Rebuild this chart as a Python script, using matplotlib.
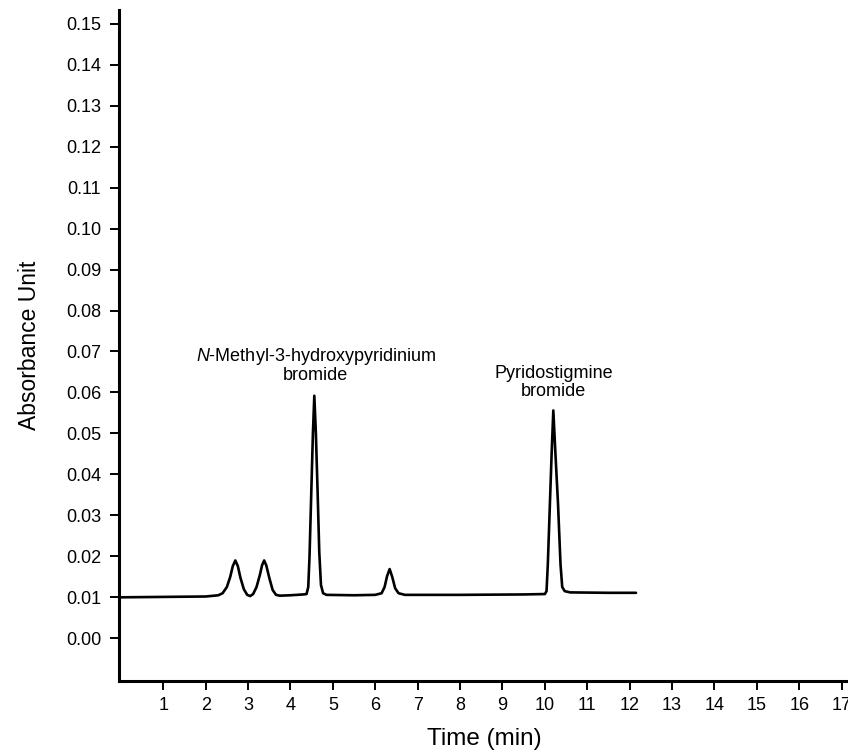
import matplotlib
matplotlib.use("Agg")
import matplotlib.pyplot as plt

plt.rcParams['font.family'] = ['Liberation Sans', 'DejaVu Sans']
plt.rcParams['mathtext.fontset'] = 'custom'
plt.rcParams['mathtext.rm'] = 'Liberation Sans'
plt.rcParams['mathtext.it'] = 'Liberation Sans:italic'

# Chromatogram trace (time in min, absorbance units)
time_min = [
    0.00, 1.00, 2.00, 2.30, 2.40, 2.50, 2.58, 2.64, 2.70, 2.76, 2.82, 2.90, 2.98,
    3.05, 3.12, 3.20, 3.28, 3.33, 3.38, 3.43, 3.50, 3.58, 3.66, 3.75, 4.00, 4.30,
    4.38, 4.42, 4.45, 4.49, 4.53, 4.563, 4.60, 4.64, 4.68, 4.72, 4.77, 4.85,
    5.50, 6.00, 6.15, 6.22, 6.28, 6.34, 6.40, 6.47, 6.55, 6.70,
    8.00, 9.50, 10.00, 10.04, 10.07, 10.12, 10.16, 10.20, 10.25, 10.31, 10.37,
    10.41, 10.47, 10.60, 11.50, 12.15,
]
absorbance = [
    0.0100, 0.0101, 0.0102, 0.0105, 0.0110, 0.0125, 0.0150, 0.0176, 0.0190, 0.0176, 0.0148, 0.0120, 0.0106,
    0.0103, 0.0108, 0.0125, 0.0155, 0.0178, 0.0190, 0.0178, 0.0148, 0.0118, 0.0106, 0.0104, 0.0105, 0.0107,
    0.0108, 0.0125, 0.0200, 0.0350, 0.0500, 0.0592, 0.0500, 0.0360, 0.0210, 0.0130, 0.0110, 0.0106,
    0.0105, 0.0106, 0.0110, 0.0125, 0.0152, 0.0169, 0.0150, 0.0122, 0.0110, 0.0106,
    0.0106, 0.0107, 0.0108, 0.0115, 0.0180, 0.0330, 0.0450, 0.0556, 0.0450, 0.0330, 0.0180,
    0.0125, 0.0115, 0.0112, 0.0111, 0.0111,
]

x_ticks = list(range(1, 18))
y_ticks = [0.00, 0.01, 0.02, 0.03, 0.04, 0.05, 0.06, 0.07, 0.08, 0.09, 0.10,
           0.11, 0.12, 0.13, 0.14, 0.15]

peak_labels = ["$\\it{N}$-Methyl-3-hydroxypyridinium\nbromide", "Pyridostigmine\nbromide"]
peak_label_x = [4.60, 10.20]
peak_label_y = [0.0620, 0.0582]

fig = plt.figure(figsize=(8.48, 7.52), dpi=100)
ax = fig.add_axes([0.140, 0.094, 0.862, 0.893])

ax.plot(time_min, absorbance, color='black', linewidth=1.9, solid_capstyle='round')

ax.set_xlim(-0.05, 17.19)
ax.set_ylim(-0.0105, 0.1534)
ax.set_xticks(x_ticks)
ax.set_xticklabels([str(t) for t in x_ticks])
ax.set_yticks(y_ticks)
ax.set_yticklabels([f"{v:.2f}" for v in y_ticks])

for s in ['top', 'right']:
    ax.spines[s].set_visible(False)
for s in ['left', 'bottom']:
    ax.spines[s].set_linewidth(2.2)

ax.tick_params(axis='both', direction='out', length=6.5, width=1.4, labelsize=13)
ax.tick_params(axis='y', pad=6)
ax.tick_params(axis='x', pad=5)

ax.set_xlabel("Time (min)", fontsize=17.5, labelpad=10)
ax.set_ylabel("Absorbance Unit", fontsize=16.5, labelpad=18)

for lbl, lx, ly in zip(peak_labels, peak_label_x, peak_label_y):
    ax.text(lx, ly, lbl, ha='center', va='bottom', fontsize=13, linespacing=1.05)

fig.savefig("out.png", dpi=100)
